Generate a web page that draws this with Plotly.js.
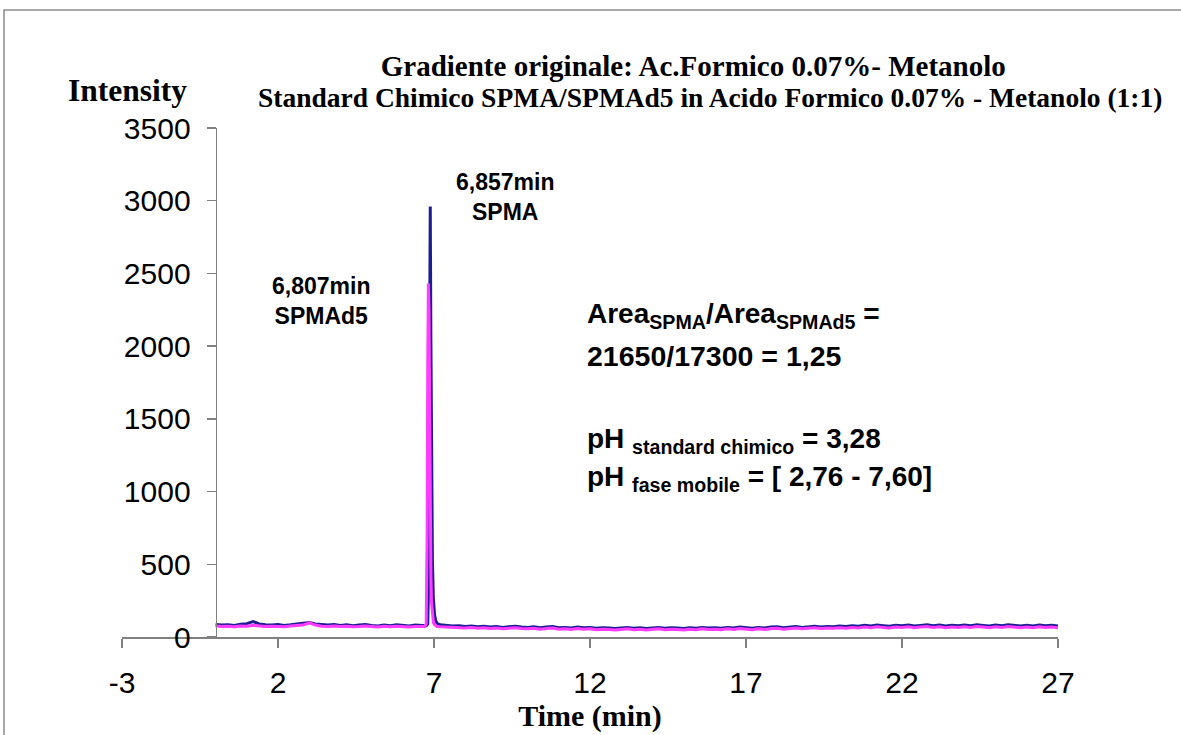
<!DOCTYPE html>
<html>
<head>
<meta charset="utf-8">
<script src="https://cdn.plot.ly/plotly-3.0.1.min.js"></script>
<style>
html,body{margin:0;padding:0;background:#fff;overflow:hidden;}
#chart{width:1181px;height:735px;}
</style>
</head>
<body>
<div id="chart"></div>
<script>
// Retention time (min)
const time = [
  0,0.2,0.4,0.6,0.8,1,1.2,1.4,1.6,1.8,
  2,2.2,2.4,2.6,2.8,3,3.2,3.4,3.6,3.8,
  4,4.2,4.4,4.6,4.8,5,5.2,5.4,5.6,5.8,
  6,6.2,6.4,6.6,
  6.7,6.75,6.78,6.8,6.82,6.84,6.86,6.88,6.9,6.92,6.95,6.98,7.02,7.06,7.1,
  7.2,7.4,7.6,7.8,
  8,8.2,8.4,8.6,8.8,9,9.2,9.4,9.6,9.8,
  10,10.2,10.4,10.6,10.8,11,11.2,11.4,11.6,11.8,
  12,12.2,12.4,12.6,12.8,13,13.2,13.4,13.6,13.8,
  14,14.2,14.4,14.6,14.8,15,15.2,15.4,15.6,15.8,
  16,16.2,16.4,16.6,16.8,17,17.2,17.4,17.6,17.8,
  18,18.2,18.4,18.6,18.8,19,19.2,19.4,19.6,19.8,
  20,20.2,20.4,20.6,20.8,21,21.2,21.4,21.6,21.8,
  22,22.2,22.4,22.6,22.8,23,23.2,23.4,23.6,23.8,
  24,24.2,24.4,24.6,24.8,25,25.2,25.4,25.6,25.8,
  26,26.2,26.4,26.6,26.8,27
];

// SPMA intensity (blue trace)
const spma = [
  86,82,85,80,88,92,106,90,84,82,
  86,80,84,88,92,100,90,84,82,86,
  80,84,78,82,86,80,76,82,78,84,
  80,76,82,78,
  80,78,84,90,300,1400,2700,2960,2050,1150,520,260,150,110,92,
  84,80,76,78,
  72,76,70,74,68,72,66,70,74,68,
  66,70,64,68,72,64,66,62,68,64,
  66,60,64,62,58,62,66,60,64,58,
  62,66,60,64,62,58,64,60,66,62,
  64,60,66,62,68,64,60,66,62,68,
  70,64,68,72,66,70,74,68,72,70,
  76,72,78,74,80,76,82,78,74,80,
  78,82,76,80,84,78,82,76,80,78,
  82,78,84,80,76,82,78,84,80,76,
  80,76,82,78,80,76
];

// SPMAd5 intensity (magenta trace)
const spmad5 = [
  76,72,74,70,76,74,80,76,72,74,
  74,70,76,78,82,98,82,74,72,76,
  72,74,70,72,76,72,68,74,70,74,
  70,68,72,70,
  72,90,700,1900,2430,2250,1500,850,430,240,140,100,84,76,72,
  70,68,66,68,
  62,66,60,64,58,62,56,60,64,58,
  56,60,54,58,62,54,56,52,58,54,
  56,50,54,52,48,52,56,50,54,48,
  52,56,50,54,52,48,54,50,56,52,
  54,50,56,52,58,54,50,56,52,58,
  60,54,58,62,56,60,64,58,62,60,
  64,60,66,62,68,64,70,66,62,68,
  66,70,64,68,72,66,70,64,68,66,
  70,66,72,68,64,70,66,72,68,64,
  68,64,70,66,68,64
];

const xTicks = [-3,2,7,12,17,22,27];
const yTicks = [0,500,1000,1500,2000,2500,3000,3500];

const sans = 'Liberation Sans, Arial, sans-serif';
const serif = 'Liberation Serif, Times New Roman, serif';

const traces = [
  {x: time, y: spma, type: 'scatter', mode: 'lines', name: 'SPMA',
   line: {color: '#1c1c94', width: 3}},
  {x: time, y: spmad5, type: 'scatter', mode: 'lines', name: 'SPMAd5',
   line: {color: '#ff3cff', width: 3}}
];

const layout = {
  width: 1181, height: 735,
  margin: {l: 122, r: 123, t: 128, b: 98},
  paper_bgcolor: '#ffffff', plot_bgcolor: 'rgba(0,0,0,0)',
  showlegend: false,
  title: {
    text: '<b>Gradiente originale: Ac.Formico 0.07%- Metanolo</b>',
    font: {family: serif, size: 29, color: '#000'},
    xref: 'container', x: 0.587, xanchor: 'center',
    yref: 'container', y: 1 - 66/735, yanchor: 'middle'
  },
  xaxis: {
    range: [-3, 27], tickmode: 'array', tickvals: xTicks, ticktext: xTicks.map(String),
    ticks: 'outside', ticklen: 9, tickwidth: 1.5, tickcolor: '#808080',
    showline: true, linecolor: '#808080', linewidth: 1.5,
    showgrid: false, zeroline: false,
    tickfont: {family: sans, size: 30, color: '#000'},
    ticklabelstandoff: 9,
    title: {text: '<b>Time (min)</b>', font: {family: serif, size: 30, color: '#000'}, standoff: 6}
  },
  yaxis: {
    range: [0, 3500], tickmode: 'array', tickvals: yTicks, ticktext: yTicks.map(String),
    anchor: 'free', position: 0.1,
    ticks: 'outside', ticklen: 9, tickwidth: 1.5, tickcolor: '#808080',
    showline: true, linecolor: '#808080', linewidth: 1.5,
    showgrid: false, zeroline: false,
    tickfont: {family: sans, size: 30, color: '#000'},
    ticklabelstandoff: 10
  },
  shapes: [
    {type: 'rect', xref: 'paper', yref: 'paper',
     x0: (4-122)/936, x1: 1.3, y0: -0.5, y1: (637-10)/509,
     line: {color: '#8c8c8c', width: 1.5}, fillcolor: 'rgba(0,0,0,0)', layer: 'below'}
  ],
  annotations: [
    {xref: 'paper', yref: 'paper', x: (710-122)/936, y: (637-97)/509, xanchor: 'center', yanchor: 'middle',
     text: '<b>Standard Chimico SPMA/SPMAd5 in Acido Formico 0.07% - Metanolo (1:1)</b>',
     showarrow: false, font: {family: serif, size: 27.5, color: '#000'}},
    {xref: 'paper', yref: 'paper', x: (127-122)/936, y: (637-90)/509, xanchor: 'center', yanchor: 'middle',
     text: '<b>Intensity</b>', showarrow: false, font: {family: serif, size: 31.5, color: '#000'}},
    {xref: 'x', yref: 'y', x: 9.28, y: 3025, xanchor: 'center', yanchor: 'middle',
     text: '<b>6,857min<br>SPMA</b>', showarrow: false, font: {family: sans, size: 23, color: '#000'}},
    {xref: 'x', yref: 'y', x: 3.38, y: 2310, xanchor: 'center', yanchor: 'middle',
     text: '<b>6,807min<br>SPMAd5</b>', showarrow: false, font: {family: sans, size: 23, color: '#000'}},
    {xref: 'x', yref: 'y', x: 11.83, y: 2214, xanchor: 'left', yanchor: 'middle',
     text: '<b>Area<sub>SPMA</sub>/Area<sub>SPMAd5</sub> =</b>', showarrow: false, font: {family: sans, size: 28, color: '#000'}},
    {xref: 'x', yref: 'y', x: 11.83, y: 1932, xanchor: 'left', yanchor: 'middle',
     text: '<b>21650/17300 = 1,25</b>', showarrow: false, font: {family: sans, size: 28.5, color: '#000'}},
    {xref: 'x', yref: 'y', x: 11.83, y: 1348, xanchor: 'left', yanchor: 'middle',
     text: '<b>pH <sub>standard chimico</sub> = 3,28</b>', showarrow: false, font: {family: sans, size: 28, color: '#000'}},
    {xref: 'x', yref: 'y', x: 11.83, y: 1093, xanchor: 'left', yanchor: 'middle',
     text: '<b>pH <sub>fase mobile</sub> = [ 2,76 - 7,60]</b>', showarrow: false, font: {family: sans, size: 28, color: '#000'}}
  ]
};

Plotly.newPlot('chart', traces, layout, {displayModeBar: false, staticPlot: true});
</script>
</body>
</html>
